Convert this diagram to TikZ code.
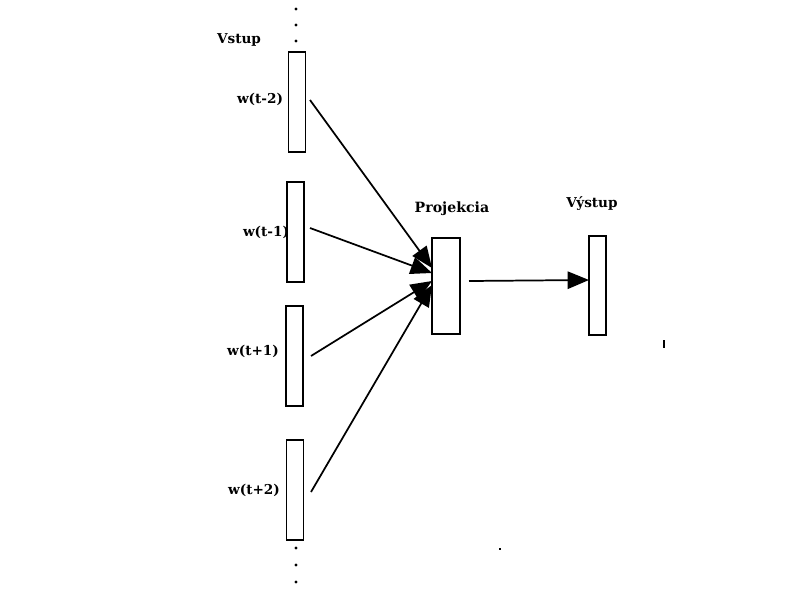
\documentclass[tikz,border=0pt]{standalone}
\usepackage{fontspec}
\setmainfont{DejaVu Serif}
\usetikzlibrary{arrows.meta}
\begin{document}
\begin{tikzpicture}[x=0.75pt,y=-0.75pt,
  vbox/.style={draw,line width=1.4pt,inner sep=0pt,minimum width=12.75pt},
  inbox/.style={vbox,minimum height=75pt},
  lbl/.style={font=\fontsize{10.2}{12}\selectfont\bfseries,anchor=base,inner sep=0pt},
  lblr/.style={font=\fontsize{10.6}{12}\selectfont,anchor=base,inner sep=0pt},
  conn/.style={line width=1.3pt,-{Triangle[length=16pt,width=13pt]}},
  dotm/.style={fill=black,minimum size=2.6pt,inner sep=0pt,circle}]
\useasboundingbox (0,0) rectangle (800,600);
% input boxes
\node[inbox] (i1) at (297,102) {};
\node[inbox] (i2) at (295.5,232) {};
\node[inbox] (i3) at (294.5,356) {};
\node[inbox] (i4) at (295,490) {};
% projection and output
\node[vbox,minimum width=21pt,minimum height=72pt] (p) at (446,286) {};
\node[vbox,minimum height=74.25pt] (o) at (597.5,285.5) {};
% labels
\node[lbl] (tv) at (239,43) {Vstup};
\node[lbl] (t1) at (260,103) {w(t-2)};
\node[lbl] (t2) at (266,236) {w(t-1)};
\node[lbl] (t3) at (253,355) {w(t+1)};
\node[lbl] (t4) at (254,494) {w(t+2)};
\node[lblr] (tp) at (452,212) {\textbf{Projekcia}};
\node[lbl] (to) at (592,207) {Výstup};
% dots
\node[dotm] (d1) at (296,9) {};
\node[dotm] (d2) at (296,25) {};
\node[dotm] (d3) at (296,41) {};
\node[dotm] (d4) at (296,548) {};
\node[dotm] (d5) at (296,565) {};
\node[dotm] (d6) at (296,582) {};
\node[fill=black,minimum size=2pt,inner sep=0pt] (s1) at (500,549) {};
\node[fill=black,minimum width=1.2pt,minimum height=6pt,inner sep=0pt] (s2) at (664,344) {};
% connector anchors
\coordinate (a1) at (310,100);
\coordinate (a2) at (310,228);
\coordinate (a3) at (311,356);
\coordinate (a4) at (311,492);
\coordinate (h1) at (432,268);
\coordinate (h2) at (432,273);
\coordinate (h3) at (432,281);
\coordinate (h4) at (432,285);
\coordinate (ps) at (469,281);
\coordinate (pe) at (589,280);
\draw[conn] (a1) -- (h1);
\draw[conn] (a2) -- (h2);
\draw[conn] (a3) -- (h3);
\draw[conn] (a4) -- (h4);
\draw[conn] (ps) -- (pe);
\end{tikzpicture}
\end{document}
